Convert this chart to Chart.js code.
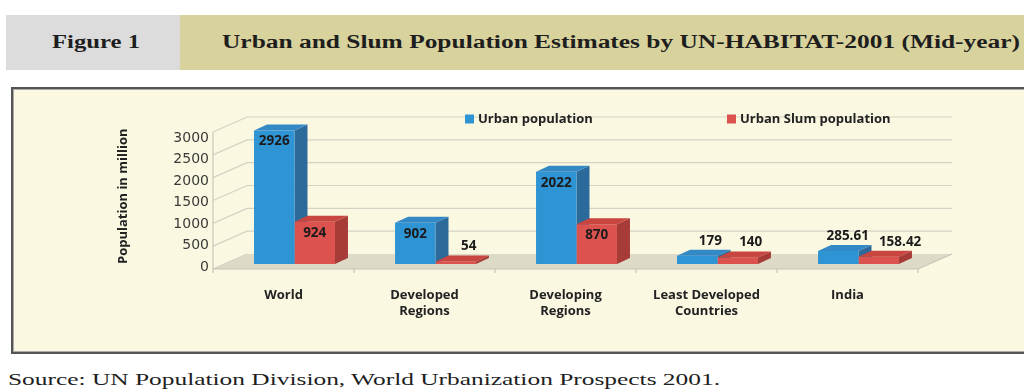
<!DOCTYPE html>
<html><head><meta charset="utf-8">
<script src="https://cdn.jsdelivr.net/npm/chart.js@4.4.1/dist/chart.umd.min.js"></script>
<style>
html,body{margin:0;padding:0;background:#fff;width:1024px;height:391px;overflow:hidden;position:relative;}
#hdrGray{position:absolute;left:6px;top:15px;width:174px;height:55px;background:#dcdcdc;}
#hdrKhaki{position:absolute;left:180px;top:15px;width:844px;height:55px;background:#d8d29d;}
.stretch{position:absolute;white-space:nowrap;transform-origin:0 50%;font-family:"Liberation Serif",serif;color:#1e1e1e;line-height:22px;}
#fig{left:52px;top:31px;font-weight:bold;font-size:18px;}
#ttl{left:222px;top:31px;font-weight:bold;font-size:18px;}
#frame{position:absolute;left:11px;top:87px;width:1030px;height:263px;border:2px solid #555;background:#fbf8e2;box-shadow:inset 0 0 0 1px #aaa;}
#src{left:8px;top:369px;font-size:16px;}
#c{position:absolute;left:0;top:0;}
</style></head>
<body>
<div id="hdrGray"></div><div id="hdrKhaki"></div>
<div class="stretch" id="fig">Figure 1</div>
<div class="stretch" id="ttl">Urban and Slum Population Estimates by UN-HABITAT-2001 (Mid-year)</div>
<div id="frame"></div>
<div class="stretch" id="src">Source: UN Population Division, World Urbanization Prospects 2001.</div>
<canvas id="c" width="1024" height="391"></canvas>
<script>
// ---- data ----
const categories = [['World'], ['Developed', 'Regions'], ['Developing', 'Regions'], ['Least Developed', 'Countries'], ['India']];
const seriesNames = ['Urban population', 'Urban Slum population'];
const urbanPopulation = [2926, 902, 2022, 179, 285.61];
const slumPopulation = [924, 54, 870, 140, 158.42];
const yTickValues = [0, 500, 1000, 1500, 2000, 2500, 3000];
const yMax = 3000;
const yTitle = 'Population in million';

// ---- styles ----
const FACES = [
  {front: '#2f94d4', top: '#3389c6', side: '#2d6a9c'},
  {front: '#dc524e', top: '#c8463f', side: '#a63b37'}
];
const FRONT = {x: -11, y: 5};   // front plane offset from bar plane
const BACK = {x: 23, y: -10};   // back wall offset from bar plane
const BAR_D = {x: 13, y: -6};   // bar depth
const LABEL_AXIS_STRETCH = 1.062; // front-axis labels are slightly compressed (perspective)

function poly(ctx, pts, fill) {
  ctx.beginPath();
  ctx.moveTo(pts[0][0], pts[0][1]);
  for (let i = 1; i < pts.length; i++) ctx.lineTo(pts[i][0], pts[i][1]);
  ctx.closePath();
  ctx.fillStyle = fill;
  ctx.fill();
}

function drawFaces(chart, dsIndex) {
  const ctx = chart.ctx;
  const meta = chart.getDatasetMeta(dsIndex);
  const col = FACES[dsIndex];
  ctx.save();
  meta.data.forEach(bar => {
    const p = bar.getProps(['x', 'y', 'base', 'width'], true);
    const l = p.x - p.width / 2, r = p.x + p.width / 2, t = p.y, b = p.base;
    poly(ctx, [[r, t], [r + BAR_D.x, t + BAR_D.y], [r + BAR_D.x, b + BAR_D.y], [r, b]], col.side);
    poly(ctx, [[l, t], [l + BAR_D.x, t + BAR_D.y], [r + BAR_D.x, t + BAR_D.y], [r, t]], col.top);
  });
  ctx.restore();
}

const threeD = {
  id: 'threeD',
  beforeDatasetsDraw(chart) {
    const {ctx, scales: {x, y}} = chart;
    const L = x.left, R = x.right, y0 = y.getPixelForValue(0), yTop = y.getPixelForValue(yMax);
    ctx.save();
    poly(ctx, [[L + FRONT.x, y0 + FRONT.y], [R + FRONT.x, y0 + FRONT.y], [R + BACK.x, y0 + BACK.y], [L + BACK.x, y0 + BACK.y]], '#dddbc7');
    ctx.strokeStyle = '#d3d2c3';
    ctx.lineWidth = 1.2;
    yTickValues.forEach(v => {
      const py = y.getPixelForValue(v);
      ctx.beginPath();
      ctx.moveTo(L + FRONT.x, py + FRONT.y);
      ctx.lineTo(L + BACK.x, py + BACK.y);
      if (v !== 0) ctx.lineTo(R + BACK.x, py + BACK.y);
      ctx.stroke();
    });
    ctx.strokeStyle = '#c9c8ba';
    ctx.beginPath();
    ctx.moveTo(L + FRONT.x, yTop + FRONT.y);
    ctx.lineTo(L + FRONT.x, y0 + FRONT.y);
    ctx.stroke();
    ctx.strokeStyle = '#c6c5b8';
    ctx.beginPath();
    ctx.moveTo(L + FRONT.x, y0 + FRONT.y);
    ctx.lineTo(R + FRONT.x, y0 + FRONT.y);
    ctx.lineTo(R + BACK.x, y0 + BACK.y);
    ctx.stroke();
    const n = categories.length, w = (R - L) / n;
    for (let i = 0; i <= n; i++) {
      const px = L + i * w + FRONT.x;
      ctx.beginPath();
      ctx.moveTo(px, y0 + FRONT.y);
      ctx.lineTo(px, y0 + FRONT.y + 4);
      ctx.stroke();
    }
    ctx.restore();
  },
  beforeDatasetDraw(chart, args) {
    if (args.index > 0) drawFaces(chart, args.index - 1);
  },
  afterDatasetDraw(chart, args) {
    if (args.index === chart.data.datasets.length - 1) drawFaces(chart, args.index);
  },
  afterDatasetsDraw(chart) {
    const ctx = chart.ctx;
    const {chartArea} = chart;
    ctx.save();
    ctx.font = 'bold 13.5px "Open Sans"';
    ctx.fillStyle = '#1b1b1b';
    ctx.textAlign = 'center';
    ctx.textBaseline = 'middle';
    const n = categories.length;
    for (let i = 0; i < n; i++) {
      const items = chart.data.datasets.map((ds, di) => {
        const bar = chart.getDatasetMeta(di).data[i];
        const p = bar.getProps(['x', 'y', 'base', 'width'], true);
        const txt = String(ds.data[i]);
        const tw = ctx.measureText(txt).width;
        const inside = (p.base - p.y) > 25;
        return {txt, tw, inside, x: inside ? p.x : p.x + 13, y: inside ? p.y + 11 : p.y - 15};
      });
      for (let k = 1; k < items.length; k++) {
        const a = items[k - 1], b = items[k];
        if (!a.inside && !b.inside) {
          const ov = (a.x + a.tw / 2 + 10) - (b.x - b.tw / 2);
          if (ov > 0) { a.x -= ov * 0.3; b.x += ov * 0.7; }
        }
      }
      items.forEach(it => ctx.fillText(it.txt, it.x, it.y));
    }
    ctx.font = 'bold 13px "Open Sans"';
    ctx.textAlign = 'left';
    const ly = chartArea.top - 8;
    const lx = [chartArea.left + 241, chartArea.left + 503];
    chart.data.datasets.forEach((ds, di) => {
      ctx.fillStyle = FACES[di].front;
      ctx.fillRect(lx[di], ly - 4.5, 9, 9);
      ctx.fillStyle = '#222';
      ctx.fillText(ds.label, lx[di] + 13, ly);
    });
    ctx.restore();
  }
};

function fitText(id, target) {
  const el = document.getElementById(id);
  const w = el.getBoundingClientRect().width;
  el.style.transform = 'scaleX(' + (target / w) + ')';
}

function build() {
  fitText('fig', 88);
  fitText('ttl', 798);
  fitText('src', 712);
  new Chart(document.getElementById('c'), {
    type: 'bar',
    data: {
      labels: categories,
      datasets: [
        {label: seriesNames[0], data: urbanPopulation, backgroundColor: FACES[0].front, categoryPercentage: 0.574, barPercentage: 1, yAxisID: 'y'},
        {label: seriesNames[1], data: slumPopulation, backgroundColor: FACES[1].front, categoryPercentage: 0.574, barPercentage: 1, yAxisID: 'y'}
      ]
    },
    options: {
      responsive: false,
      animation: false,
      devicePixelRatio: 1,
      layout: {padding: {left: 0, top: 127, right: 95, bottom: 0}},
      plugins: {legend: {display: false}, tooltip: {enabled: false}},
      scales: {
        x: {
          grid: {display: false, drawTicks: false},
          border: {display: false},
          ticks: {padding: 23, labelOffset: -11, color: '#222', maxRotation: 0, autoSkip: false,
                  font: {family: 'Open Sans', weight: 'bold', size: 13, lineHeight: 1.25}},
          afterFit: s => { s.height = 127; }
        },
        y: {
          min: 0, max: yMax,
          display: false,
          afterFit: s => { s.width = 0; }
        },
        yLabels: {
          type: 'linear',
          position: 'left',
          min: 0, max: yMax * LABEL_AXIS_STRETCH,
          grid: {display: false, drawTicks: false},
          border: {display: false},
          afterBuildTicks: s => { s.ticks = yTickValues.map(v => ({value: v})); },
          ticks: {padding: 15, labelOffset: 3, color: '#3a3a3a', autoSkip: false,
                  callback: v => String(v),
                  font: {family: 'DejaVu Sans', size: 14}},
          title: {display: true, text: yTitle, align: 'start', padding: {top: 115, bottom: 0},
                  color: '#222', font: {family: 'Open Sans', weight: 'bold', size: 13}},
          afterFit: s => { s.width = 224; }
        }
      }
    },
    plugins: [threeD]
  });
}

Promise.all([
  document.fonts.load('bold 12px "Open Sans"'),
  document.fonts.load('14px "DejaVu Sans"'),
  document.fonts.load('bold 18px "Liberation Serif"'),
  document.fonts.load('16px "Liberation Serif"')
]).then(build, build);
</script>
</body></html>
